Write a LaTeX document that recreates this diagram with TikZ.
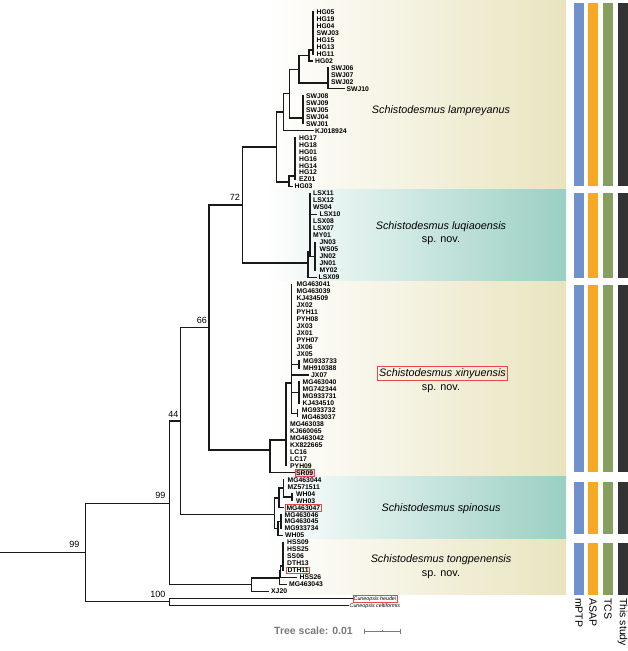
\documentclass[tikz,border=0pt]{standalone}
\usepackage{fontspec}
\setmainfont{Liberation Sans}
\definecolor{beigeC}{HTML}{E9E4BF}
\definecolor{tealC}{HTML}{9ACFC3}
\definecolor{barBlue}{HTML}{7191CD}
\definecolor{barOrange}{HTML}{F8A923}
\definecolor{barGreen}{HTML}{869E5E}
\definecolor{barDark}{HTML}{333333}
\definecolor{boxRed}{HTML}{E5484B}
\definecolor{scaleGrey}{HTML}{7A7A7A}
\begin{document}
\begin{tikzpicture}[x=1pt,y=-1pt,
  tree/.style={line width=1.3pt, line cap=rect, black!90},
  tiplab/.style={anchor=base west, inner sep=0pt, font=\fontsize{6.8}{7}\selectfont\bfseries},
  boxlab/.style={anchor=base west, inner sep=0.8pt, draw=boxRed, line width=0.8pt, font=\fontsize{6.8}{7}\selectfont\bfseries},
  outlab/.style={anchor=base west, inner sep=0pt, font=\fontsize{5.3}{6}\selectfont\itshape},
  bslab/.style={anchor=base east, inner sep=0pt, font=\fontsize{9}{10}\selectfont},
  splab/.style={inner sep=0pt, font=\fontsize{10.8}{13}\selectfont\itshape},
  spnov/.style={inner sep=0pt, font=\fontsize{10.8}{13}\selectfont},
  barlab/.style={rotate=-90, anchor=west, inner sep=0pt, font=\fontsize{10.5}{12}\selectfont}]
\useasboundingbox (0,0) rectangle (628,651);
% background bands
\shade[left color=white, right color=beigeC] (265,0) rectangle (566,189.5);
\shade[left color=white, right color=tealC] (265,189.5) rectangle (566,281);
\shade[left color=white, right color=beigeC] (265,281) rectangle (566,476);
\shade[left color=white, right color=tealC] (265,476) rectangle (566,539);
\shade[left color=white, right color=beigeC] (265,539) rectangle (566,594);
% bars
\foreach \ya/\yb in {3/186, 193/278, 285/472, 482/534, 543/595} {
  \fill[barBlue] (574,\ya) rectangle (584,\yb);
  \fill[barOrange] (588,\ya) rectangle (598,\yb);
  \fill[barGreen] (603,\ya) rectangle (613,\yb);
  \fill[barDark] (618,\ya) rectangle (628,\yb);
}
\node[barlab] (bl1) at (579,598) {mPTP};
\node[barlab] (bl2) at (593,598) {ASAP};
\node[barlab] (bl3) at (608,598) {TCS};
\node[barlab] (bl4) at (622.5,598) {This study};
% tree
\draw[tree]
 (0,552.7) -- (85.3,552.7)
 (85.3,503.3) -- (85.3,601.7)
 (85.3,503.3) -- (169.3,503.3)
 (85.3,601.7) -- (169.3,601.7)
 (169.3,598.3) -- (169.3,605.3)
 (169.3,598.3) -- (352,598.3)
 (169.3,605.3) -- (348.5,605.3)
 (169.3,421) -- (169.3,584.7)
 (169.3,421) -- (180.7,421)
 (169.3,584.7) -- (251.7,584.7)
 (180.7,327.5) -- (180.7,514.5)
 (180.7,327.5) -- (209,327.5)
 (180.7,514.5) -- (274.3,514.5)
 (209,205) -- (209,450)
 (209,205) -- (242.7,205)
 (209,450) -- (270,450)
 (242.7,147) -- (242.7,263)
 (242.7,147) -- (276.7,147)
 (242.7,263) -- (308,263)
 (276.7,112.1) -- (276.7,182)
 (276.7,112.1) -- (283.3,112.1)
 (276.7,182) -- (289,182)
 (283.3,93.6) -- (283.3,130.66)
 (283.3,93.6) -- (289.3,93.6)
 (283.3,130.66) -- (313,130.66)
 (289.3,69.2) -- (289.3,118)
 (289.3,69.2) -- (299,69.2)
 (289.3,118) -- (303,118)
 (299,55.4) -- (299,83)
 (299,55.4) -- (309,55.4)
 (299,83) -- (328,83)
 (309,50) -- (309,60.86)
 (309,50) -- (313,50)
 (309,60.86) -- (312.5,60.86)
 (313,12) -- (313,53.88)
 (328,67.84) -- (328,88.78)
 (328,88.78) -- (344,88.78)
 (303,95.76) -- (303,123.68)
 (289,176) -- (289,186.5)
 (289,176) -- (295,176)
 (289,186.5) -- (292,186.5)
 (295,137.64) -- (295,179.52)
 (308,252) -- (308,277.24)
 (308,252) -- (310,252)
 (308,277.24) -- (316,277.24)
 (310,193.48) -- (310,256.3)
 (310,214.42) -- (316.5,214.42)
 (310,256.3) -- (315,256.3)
 (315,242.34) -- (315,270.26)
 (270,440) -- (270,472.68)
 (270,440) -- (286,440)
 (270,472.68) -- (294,472.68)
 (286,383) -- (286,465.7)
 (286,383) -- (291.7,383)
 (291.7,284.22) -- (291.7,413.3)
 (291.7,364.5) -- (299,364.5)
 (299,361) -- (299,367.98)
 (291.7,374.96) -- (308,374.96)
 (291.7,392.4) -- (299,392.4)
 (299,381.94) -- (299,402.88)
 (291.7,413.3) -- (297.7,413.3)
 (297.7,409.86) -- (297.7,416.84)
 (274.3,498) -- (274.3,528.5)
 (274.3,498) -- (279,498)
 (274.3,528.5) -- (278,528.5)
 (279,488) -- (279,507.58)
 (279,488) -- (283.5,488)
 (279,507.58) -- (283,507.58)
 (283.5,479.66) -- (283.5,497)
 (283.5,497) -- (292,497)
 (292,493.62) -- (292,500.6)
 (278,521.54) -- (278,535.5)
 (278,521.54) -- (281,521.54)
 (278,535.5) -- (282,535.5)
 (281,514.56) -- (281,528.52)
 (251.7,578) -- (251.7,591.34)
 (251.7,578) -- (279.3,578)
 (251.7,591.34) -- (268,591.34)
 (279.3,571) -- (279.3,584.36)
 (279.3,571) -- (280.7,571)
 (279.3,584.36) -- (286.7,584.36)
 (280.7,566) -- (280.7,577.38)
 (280.7,566) -- (283,566)
 (280.7,577.38) -- (296.7,577.38)
 (283,542.48) -- (283,570.4);
% tip labels
\foreach \i/\x/\t in {1/316.5/HG05, 2/316.5/HG19, 3/316.5/HG04, 4/316.5/SWJ03, 5/316.5/HG15, 6/316.5/HG13, 7/316.5/HG11, 8/315/HG02,
  9/331/SWJ06, 10/331/SWJ07, 11/331/SWJ02, 12/346.5/SWJ10, 13/306/SWJ08, 14/306/SWJ09, 15/306/SWJ05, 16/306/SWJ04, 17/306/SWJ01,
  18/315/KJ018924, 19/299/HG17, 20/299/HG18, 21/299/HG01, 22/299/HG16, 23/299/HG14, 24/299/HG12, 25/299/EZ01, 26/294.5/HG03,
  27/313/LSX11, 28/313/LSX12, 29/313/WS04, 30/319.5/LSX10, 31/313/LSX08, 32/313/LSX07, 33/313/MY01, 34/319.5/JN03, 35/319.5/WS05,
  36/319.5/JN02, 37/319.5/JN01, 38/319.5/MY02, 39/318.5/LSX09,
  40/296.5/MG463041, 41/296.5/MG463039, 42/296.5/KJ434509, 43/296.5/JX02, 44/296.5/PYH11, 45/296.5/PYH08, 46/296.5/JX03, 47/296.5/JX01,
  48/296.5/PYH07, 49/296.5/JX06, 50/296.5/JX05, 51/303/MG933733, 52/303/MH910388, 53/311/JX07, 54/302.5/MG463040, 55/302.5/MG742344,
  56/302.5/MG933731, 57/302.5/KJ434510, 58/301.7/MG933732, 59/301.7/MG463037, 60/290/MG463038, 61/290/KJ660065, 62/290/MG463042,
  63/290/KX822665, 64/290/LC16, 65/290/LC17, 66/290/PYH09,
  68/287.5/MG463044, 69/287.5/MZ571511, 70/296/WH04, 71/296/WH03, 73/284.5/MG463046, 74/284.5/MG463045, 75/284.5/MG933734, 76/285/WH05,
  77/287/HSS09, 78/287/HSS25, 79/287/SS06, 80/287/DTH13, 82/299.5/HSS26, 83/289/MG463043, 84/271/XJ20}
  \node[tiplab] (t\i) at (\x, {12+(\i-1)*6.98+2.45}) {\t};
\node[boxlab, fill=boxRed!25] (t67) at (295, {12+66*6.98+2.45}) {SR09};
\node[boxlab] (t72) at (285.3, {12+71*6.98+2.45}) {MG463047};
\node[boxlab] (t81) at (286.3, {12+80*6.98+2.45}) {DTH11};
\node[outlab, draw=boxRed, line width=0.8pt, inner sep=0.8pt] (t85) at (352.5, {12+84*6.98+1.9}) {Cuneopsis heudei};
\node[outlab] (t86) at (349.5, {12+85*6.98+1.9}) {Cuneopsis celtiformis};
% bootstrap values
\node[bslab] (b72) at (240,200.5) {72};
\node[bslab] (b66) at (207,323.5) {66};
\node[bslab] (b44) at (178.5,417.5) {44};
\node[bslab] (b99a) at (165.5,498.5) {99};
\node[bslab] (b99b) at (79.5,547.5) {99};
\node[bslab] (b100) at (165.5,597) {100};
% species labels
\node[splab] (s1) at (441,111) {Schistodesmus lampreyanus};
\node[splab] (s2) at (441,227) {Schistodesmus luqiaoensis};
\node[spnov] (s2b) at (441,241) {sp. nov.};
\node[splab, draw=boxRed, line width=0.8pt, inner sep=1.8pt] (s3) at (442.5,373.5) {Schistodesmus xinyuensis};
\node[spnov] (s3b) at (441,388.5) {sp. nov.};
\node[splab] (s4) at (441,509) {Schistodesmus spinosus};
\node[splab] (s5) at (441,560) {Schistodesmus tongpenensis};
\node[spnov] (s5b) at (441,575) {sp. nov.};
% tree scale
\node[anchor=base west, inner sep=0pt, text=scaleGrey, font=\fontsize{10.5}{12}\selectfont\bfseries] (ts) at (274,634.7) {Tree scale: 0.01};
\draw[scaleGrey, line width=0.9pt] (364,631) -- (400,631) (364,628.5) -- (364,633.5) (400,628.5) -- (400,633.5) (382,629.8) -- (382,632.2);
\end{tikzpicture}
\end{document}
